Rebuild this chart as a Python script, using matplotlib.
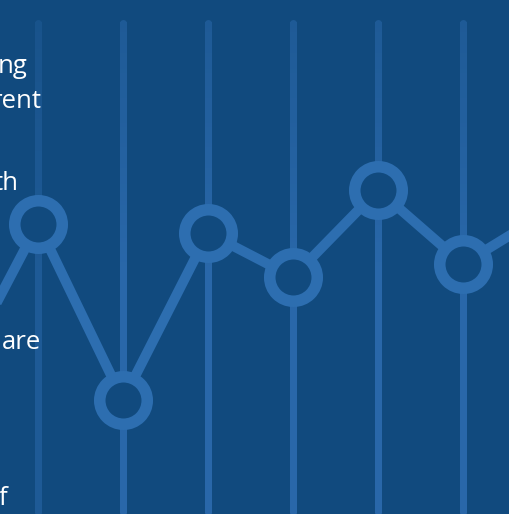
import numpy as np
import matplotlib.pyplot as plt
from matplotlib.collections import LineCollection
from matplotlib.colors import to_rgb

# series: index -1 and 6 lie just outside the frame
idx = [-1, 0, 1, 2, 3, 4, 5, 6]
values = [128, 290, 114, 281, 237, 324, 250, 302]
stems = [0, 1, 2, 3, 4, 5]

# cut-off text fragments at the left edge (text, right end px, baseline px)
fragments = [("ng", 28, 73), ("rent", 42, 108), ("th", 19, 190),
             ("are", 41, 349), ("f", 7, 505)]

W, H = 510, 514
bg = "#114a7e"
line_col = "#2d6eb0"
stem_col = "#2967a9"

fig = plt.figure(figsize=(W / 100, H / 100), dpi=100, facecolor=bg)
ax = fig.add_axes([0, 0, 1, 1])
ax.set_facecolor(bg)
ax.set_xlim(-38 / 85, (W - 38) / 85)
ax.set_ylim(0, H)
ax.axis("off")

# vertical stems, fading a little towards the top
c0 = np.array(to_rgb(bg))
c1 = np.array(to_rgb(stem_col))
ys = np.linspace(2, H - 23, 120)
lw = 5.0
for i, s in enumerate(stems):
    segs = [[(s, ys[k]), (s, ys[k + 1] + 1.5)] for k in range(len(ys) - 1)]
    mix = 0.55 + 0.45 * np.clip((H - 23 - ys[:-1]) / 250, 0, 1)
    if i == 0:
        mix = mix * 0.55
    cols = [tuple(c0 + (c1 - c0) * m) for m in mix]
    ax.add_collection(LineCollection(segs, colors=cols, linewidths=lw,
                                     capstyle="butt", antialiaseds=False,
                                     zorder=1))
    # round caps
    ax.plot([s], [ys[-1]], marker="o", ms=lw, mec="none",
            mfc=tuple(c0 + (c1 - c0) * mix[-1]), zorder=1)
    ax.plot([s], [ys[0]], marker="o", ms=lw, mec="none",
            mfc=tuple(c0 + (c1 - c0) * mix[0]), zorder=1)

ax.plot(idx, values, color=line_col, lw=7.2, solid_joinstyle="round",
        marker="o", ms=34.2, mfc=bg, mec=line_col, mew=8.3, zorder=3)

for txt, xr, yb in fragments:
    fig.text(xr / W, 1 - yb / H, txt, ha="right", va="baseline",
             color="white", fontsize=18.5, family="Open Sans", zorder=5)

fig.savefig("out.png", dpi=100, facecolor=bg)
